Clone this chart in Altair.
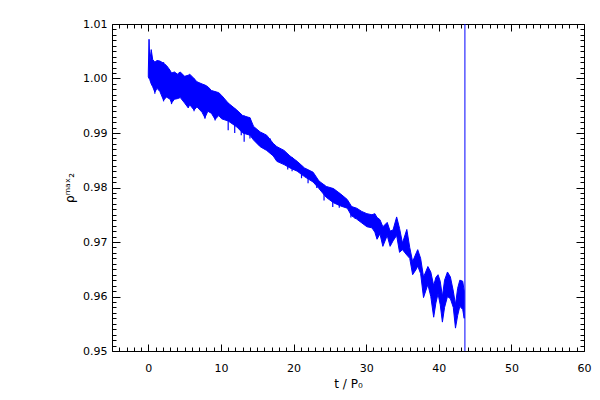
import altair as alt
import pandas as pd

# time (t / P0) samples and envelope of the oscillating rho_max_2 signal
t_vals = [0.0, 0.1, 0.2, 0.4, 0.6, 0.9, 1.2, 1.6, 2.1, 2.5, 3.0, 3.2, 3.6, 4.0, 4.4,
          5.0, 5.5, 5.7, 6.3, 6.7, 7.4, 7.8, 8.2, 8.7, 9.2, 9.7, 10.1, 11.0, 12.2, 13.0,
          14.0, 14.5, 15.4, 16.3, 17.2, 17.7, 18.7, 19.5, 20.5, 21.5, 22.7, 23.5, 24.5,
          25.5, 26.5, 27.4, 28.0, 28.7, 29.4, 30.1, 30.8, 31.2, 31.5, 31.9, 32.3, 32.9,
          33.3, 33.7, 34.2, 34.6, 35.0, 35.6, 36.0, 36.4, 36.9, 37.1, 37.5, 37.9, 38.2,
          38.5, 38.9, 39.3, 39.6, 39.9, 40.2, 40.5, 40.8, 41.2, 41.6, 42.0, 42.3, 42.6,
          42.9, 43.3, 43.5]
lo_vals = [1.0003, 1.0000, 0.9998, 0.9990, 0.9985, 0.9975, 0.9982, 0.9976, 0.9960, 0.9966,
           0.9962, 0.9955, 0.9962, 0.9963, 0.9965, 0.9955, 0.9946, 0.9952, 0.9942, 0.9948,
           0.9938, 0.9928, 0.9940, 0.9936, 0.9925, 0.9932, 0.9926, 0.9922, 0.9911, 0.9900,
           0.9896, 0.9887, 0.9875, 0.9868, 0.9858, 0.9848, 0.9842, 0.9836, 0.9830, 0.9820,
           0.9810, 0.9798, 0.9782, 0.9772, 0.9766, 0.9762, 0.9748, 0.9742, 0.9735, 0.9728,
           0.9726, 0.9718, 0.9705, 0.9715, 0.9692, 0.9712, 0.9692, 0.9702, 0.9712, 0.9681,
           0.9686, 0.9676, 0.9670, 0.9640, 0.9650, 0.9656, 0.9642, 0.9598, 0.9610, 0.9622,
           0.9600, 0.9562, 0.9588, 0.9605, 0.9585, 0.9553, 0.9580, 0.9600, 0.9596, 0.9580,
           0.9542, 0.9565, 0.9582, 0.9576, 0.9560]
hi_vals = [1.0012, 1.0072, 1.0030, 1.0053, 1.0035, 1.0030, 1.0033, 1.0032, 1.0028, 1.0024,
           1.0015, 1.0010, 1.0012, 1.0008, 1.0012, 1.0004, 1.0006, 1.0008, 1.0000, 0.9994,
           0.9990, 0.9988, 0.9985, 0.9978, 0.9976, 0.9974, 0.9969, 0.9955, 0.9942, 0.9932,
           0.9928, 0.9912, 0.9902, 0.9896, 0.9881, 0.9875, 0.9868, 0.9858, 0.9848, 0.9836,
           0.9828, 0.9812, 0.9802, 0.9798, 0.9788, 0.9778, 0.9765, 0.9762, 0.9756, 0.9752,
           0.9750, 0.9752, 0.9745, 0.9741, 0.9728, 0.9736, 0.9720, 0.9722, 0.9746, 0.9725,
           0.9698, 0.9723, 0.9690, 0.9664, 0.9680, 0.9686, 0.9670, 0.9636, 0.9645, 0.9655,
           0.9645, 0.9620, 0.9635, 0.9640, 0.9628, 0.9600, 0.9630, 0.9645, 0.9636, 0.9610,
           0.9585, 0.9615, 0.9630, 0.9628, 0.9610]

# narrow excursions of the signal below the band
dip_t = [0.9, 2.1, 3.2, 6.3, 7.8, 9.2, 11.0, 11.9, 12.8, 13.2, 14.0, 15.8, 16.8, 17.7,
         19.2, 19.8, 21.1, 22.0, 23.2, 24.2, 25.4, 26.3, 27.9, 28.5]
dip_lo = [0.9972, 0.9958, 0.9953, 0.9940, 0.9926, 0.9923, 0.9905, 0.9900, 0.9896, 0.9884,
          0.9890, 0.9875, 0.9864, 0.9852, 0.9833, 0.9830, 0.9817, 0.9808, 0.9799, 0.9776,
          0.9764, 0.9763, 0.9745, 0.9742]
dip_hi = [1.0030, 1.0030, 1.0010, 1.0000, 0.9988, 0.9976, 0.9955, 0.9945, 0.9935, 0.9932,
          0.9928, 0.9900, 0.9890, 0.9875, 0.9860, 0.9856, 0.9840, 0.9832, 0.9815, 0.9805,
          0.9798, 0.9790, 0.9766, 0.9762]

# final jump of the signal (runs off both ends of the plot)
spike_t = [43.6, 43.6]
spike_y = [0.94, 1.02]

x_major_ticks = [0, 10, 20, 30, 40, 50, 60]
x_minor_ticks = [v for v in range(-5, 61) if v % 10 != 0]
y_major_ticks = [0.95, 0.96, 0.97, 0.98, 0.99, 1.00, 1.01]
y_minor_ticks = [round(0.95 + 0.001 * i, 3) for i in range(61) if i % 10 != 0]

band = pd.DataFrame({"t": t_vals, "lo": lo_vals, "hi": hi_vals})
dips = pd.DataFrame({"t": dip_t, "lo": dip_lo, "hi": dip_hi})
spike = pd.DataFrame({"t": spike_t, "y": spike_y})

FONT = "DejaVu Sans"
BLUE = "#0000ff"


def xscale():
    return alt.Scale(domain=[-5, 60], nice=False, zero=False)


def yscale():
    return alt.Scale(domain=[0.95, 1.01], nice=False, zero=False)


def tick_axis(orient, values, size):
    # outward ticks shifted inward by their own length -> IDL-style inner ticks
    return alt.Axis(orient=orient, values=values, labels=False, title="",
                    ticks=True, tickSize=size, offset=-size, domain=False,
                    grid=False, tickColor="black", tickWidth=1)


label_x = alt.Axis(orient="bottom", values=x_major_ticks, ticks=False, domain=False,
                   grid=False, labelPadding=11, labelOverlap=False, labelFlush=False,
                   labelFont=FONT, labelFontSize=11, labelColor="black",
                   title="t / P₀", titleFont=FONT, titleFontSize=12,
                   titleFontWeight="normal", titleColor="black", titlePadding=5)
label_y = alt.Axis(orient="left", values=y_major_ticks, ticks=False, domain=False,
                   grid=False, format=".2f", labelPadding=5, labelOverlap=False,
                   labelFlush=False, labelFont=FONT, labelFontSize=11,
                   labelColor="black", title="ρᵐᵃˣ₂", titleFont=FONT,
                   titleFontSize=12, titleFontWeight="normal", titleColor="black",
                   titlePadding=6)

area = alt.Chart(band).mark_area(color=BLUE, stroke=BLUE, strokeWidth=1,
                                 clip=True, opacity=1).encode(
    x=alt.X("t:Q", scale=xscale(), axis=label_x),
    y=alt.Y("hi:Q", scale=yscale(), axis=label_y),
    y2="lo:Q",
)

jump = alt.Chart(spike).mark_line(color=BLUE, strokeWidth=1, clip=True).encode(
    x=alt.X("t:Q", scale=xscale(), axis=tick_axis("bottom", x_major_ticks, 7)),
    y=alt.Y("y:Q", scale=yscale(), axis=tick_axis("left", y_major_ticks, 8)),
)

dip_rules = alt.Chart(dips).mark_rule(color=BLUE, strokeWidth=1.2, clip=True).encode(
    x=alt.X("t:Q", scale=xscale(), axis=tick_axis("bottom", x_minor_ticks, 4)),
    y=alt.Y("hi:Q", scale=yscale(), axis=tick_axis("left", y_minor_ticks, 4)),
    y2="lo:Q",
)


def ghost(x_ax, y_ax):
    return alt.Chart(spike).mark_line(strokeOpacity=0, clip=True).encode(
        x=alt.X("t:Q", scale=xscale(), axis=x_ax),
        y=alt.Y("y:Q", scale=yscale(), axis=y_ax),
    )


layers = [
    area,
    jump,
    dip_rules,
    ghost(tick_axis("top", x_major_ticks, 7), tick_axis("right", y_major_ticks, 8)),
    ghost(tick_axis("top", x_minor_ticks, 4), tick_axis("right", y_minor_ticks, 4)),
]

chart = alt.layer(*layers).resolve_scale(
    x="independent", y="independent"
).resolve_axis(
    x="independent", y="independent"
).properties(
    width=472, height=327,
    autosize="none",
    padding={"left": 104, "top": 16, "right": 8, "bottom": 60},
    background="white",
).configure_view(stroke="black", strokeWidth=1)

chart.save("out.html", embed_options={"renderer": "svg", "actions": False})
